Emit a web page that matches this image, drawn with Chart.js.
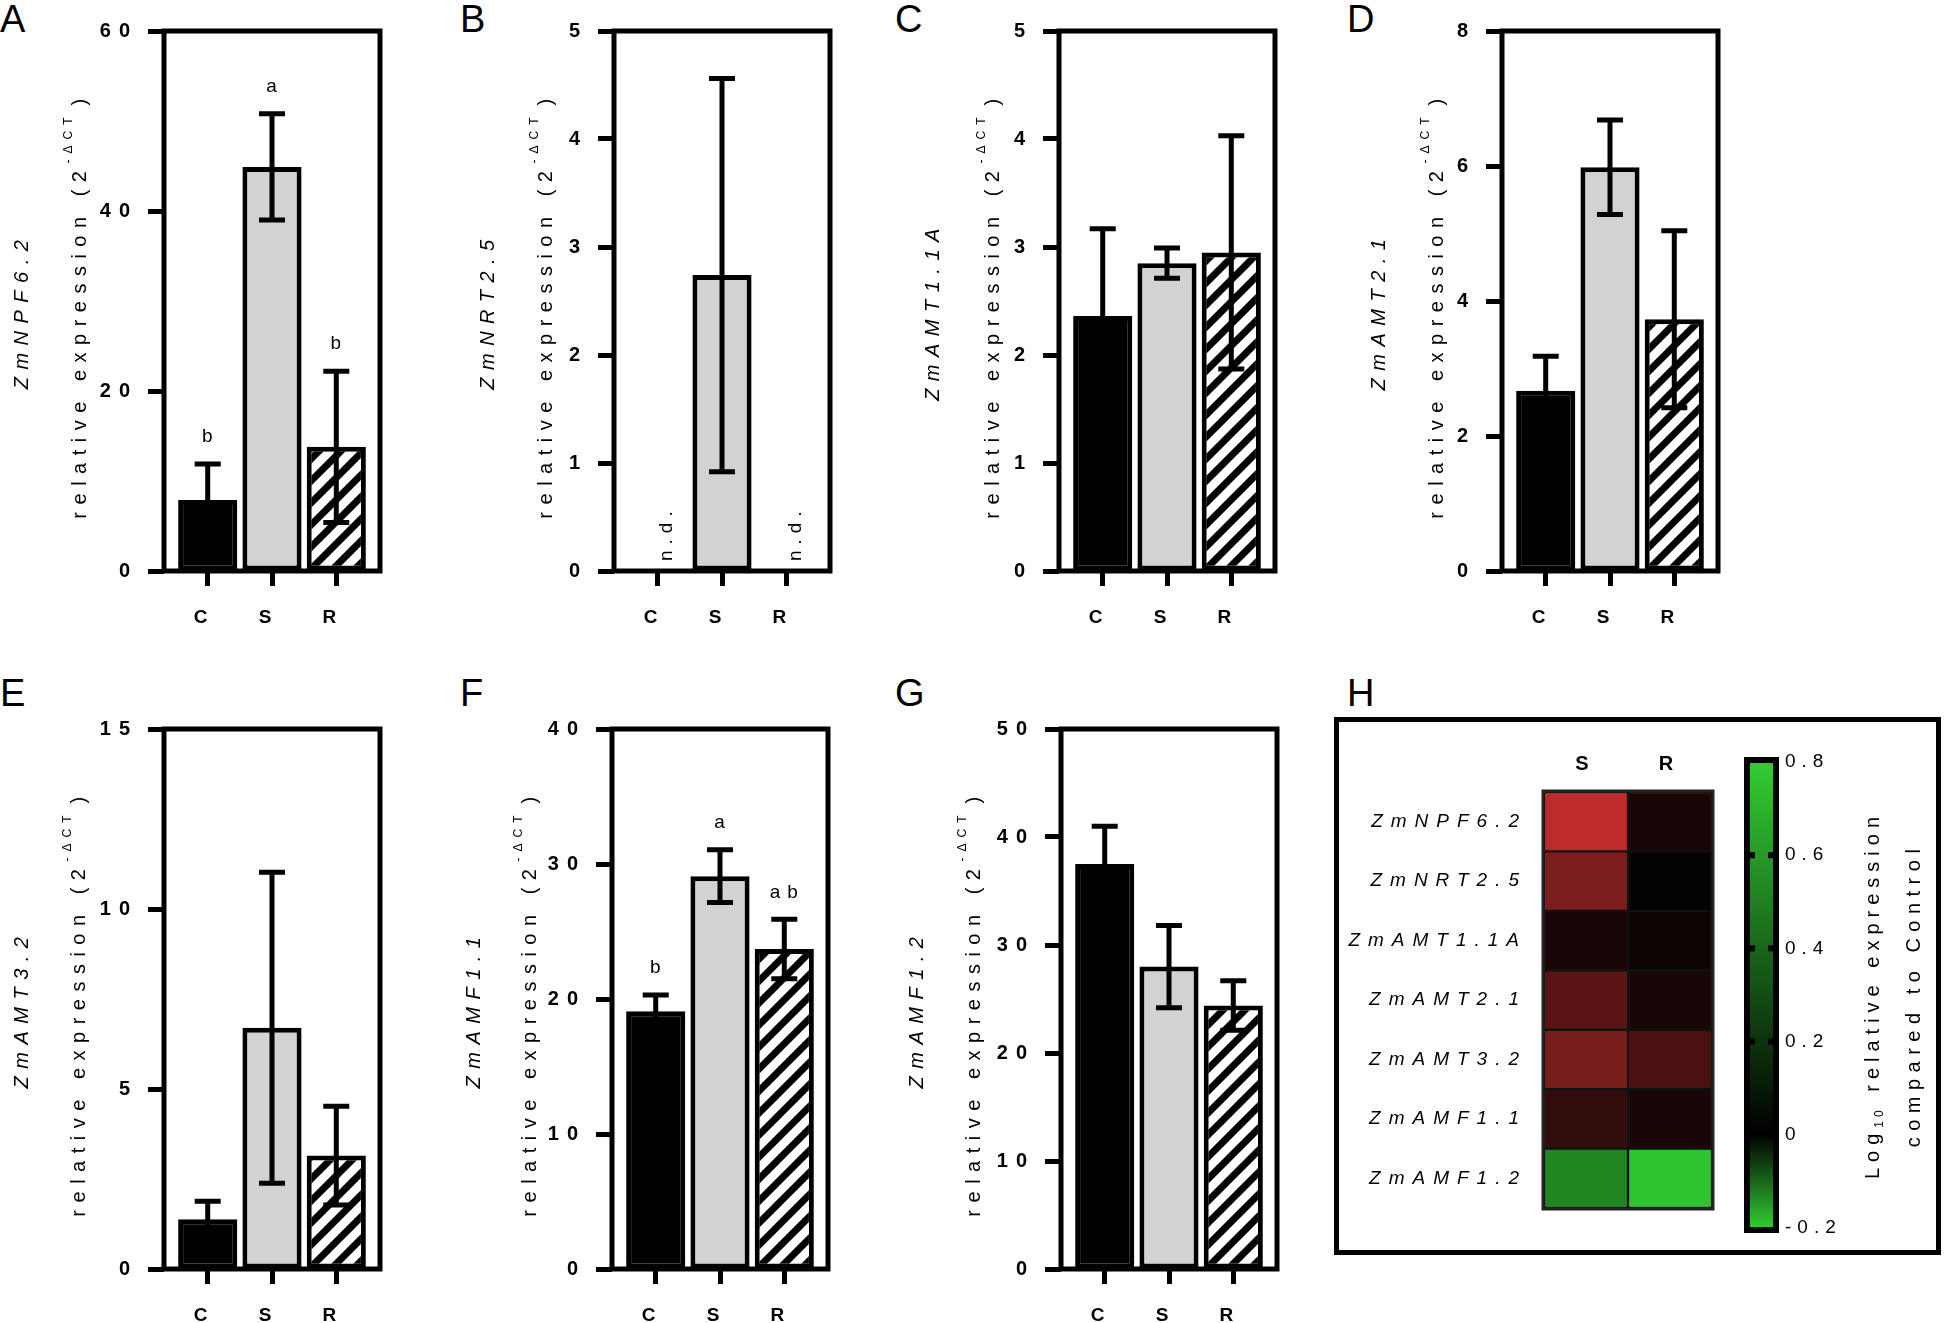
<!DOCTYPE html>
<html>
<head>
<meta charset="utf-8">
<script src="https://cdn.jsdelivr.net/npm/chart.js@4.4.1/dist/chart.umd.min.js"></script>
<style>
  html, body { margin: 0; padding: 0; background: #fff; }
  #fig { position: relative; width: 1945px; height: 1323px; overflow: hidden; font-family: "Liberation Sans", Arial, sans-serif; }
  #fig canvas { position: absolute; }
  .tag { position: absolute; font-size: 38px; line-height: 38px; color: #000; }
  #hbox { position: absolute; left: 1334px; top: 717px; width: 607px; height: 538px; border: 5px solid #000; box-sizing: border-box; }
</style>
</head>
<body>
<div id="fig">
  <div id="hbox"></div>
  <div class="tag" style="left:0px;top:0px">A</div>
  <div class="tag" style="left:460px;top:0px">B</div>
  <div class="tag" style="left:895px;top:0px">C</div>
  <div class="tag" style="left:1347px;top:0px">D</div>
  <div class="tag" style="left:0px;top:674px">E</div>
  <div class="tag" style="left:460px;top:674px">F</div>
  <div class="tag" style="left:895px;top:674px">G</div>
  <div class="tag" style="left:1347px;top:674px">H</div>
</div>
<script>
const groups = ['C', 'S', 'R'];
const genes = ['NPF6.2', 'NRT2.5', 'AMT1.1A', 'AMT2.1', 'AMT3.2', 'AMF1.1', 'AMF1.2'];

// mean and SD per gene, order C, S, R (null = not detected)
const npf62Mean = [7.9, 44.9, 13.8];
const npf62Sd = [4.0, 5.9, 8.4];
const nrt25Mean = [null, 2.74, null];
const nrt25Sd = [null, 1.82, null];
const amt11aMean = [2.36, 2.85, 2.95];
const amt11aSd = [0.81, 0.14, 1.08];
const amt21Mean = [2.67, 5.98, 3.73];
const amt21Sd = [0.51, 0.70, 1.31];
const amt32Mean = [1.38, 6.70, 3.15];
const amt32Sd = [0.50, 4.32, 1.37];
const amf11Mean = [19.1, 29.1, 23.7];
const amf11Sd = [1.2, 1.95, 2.2];
const amf12Mean = [37.5, 28.0, 24.4];
const amf12Sd = [3.5, 3.8, 2.3];

const npf62Letters = ['b', 'a', 'b'];
const amf11Letters = ['b', 'a', 'ab'];
const notDetected = 'n.d.';

const yMax = [60, 5, 5, 8, 15, 40, 50];
const yStep = [20, 1, 1, 2, 5, 10, 10];

// heat map: log10 expression relative to control
const heatCols = ['S', 'R'];
const heatS = [0.76, 0.50, 0.10, 0.36, 0.48, 0.20, -0.13];
const heatR = [0.10, 0.01, 0.05, 0.10, 0.30, 0.10, -0.19];
const scaleMin = -0.2, scaleMax = 0.8, scaleStep = 0.2;

const FONT = '"Liberation Sans", Arial, sans-serif';
Chart.defaults.font.family = FONT;
Chart.defaults.color = '#000';

const fig = document.getElementById('fig');

function addCanvas(left, top, w, h) {
  const c = document.createElement('canvas');
  c.width = w; c.height = h;
  c.style.left = left + 'px'; c.style.top = top + 'px';
  c.style.width = w + 'px'; c.style.height = h + 'px';
  fig.appendChild(c);
  return c;
}

function makeHatch() {
  const t = document.createElement('canvas');
  t.width = 22; t.height = 22;
  const g = t.getContext('2d');
  g.fillStyle = '#fff';
  g.fillRect(0, 0, 22, 22);
  g.strokeStyle = '#000';
  g.lineWidth = 7;
  g.beginPath();
  g.moveTo(-11, 11); g.lineTo(11, -11);
  g.moveTo(-2, 24); g.lineTo(24, -2);
  g.moveTo(11, 33); g.lineTo(33, 11);
  g.stroke();
  return g.createPattern(t, 'repeat');
}
const hatch = makeHatch();

const panels = [
  { gene: genes[0], mean: npf62Mean, sd: npf62Sd, letters: npf62Letters, max: yMax[0], step: yStep[0], fx: 164, fy: 31, t1: 142, t2: 84 },
  { gene: genes[1], mean: nrt25Mean, sd: nrt25Sd, max: yMax[1], step: yStep[1], fx: 614, fy: 31, t1: 126, t2: 68 },
  { gene: genes[2], mean: amt11aMean, sd: amt11aSd, max: yMax[2], step: yStep[2], fx: 1059, fy: 31, t1: 126, t2: 66 },
  { gene: genes[3], mean: amt21Mean, sd: amt21Sd, max: yMax[3], step: yStep[3], fx: 1502, fy: 31, t1: 123, t2: 65 },
  { gene: genes[4], mean: amt32Mean, sd: amt32Sd, max: yMax[4], step: yStep[4], fx: 164, fy: 729, t1: 142, t2: 85 },
  { gene: genes[5], mean: amf11Mean, sd: amf11Sd, letters: amf11Letters, max: yMax[5], step: yStep[5], fx: 612, fy: 729, t1: 138, t2: 82 },
  { gene: genes[6], mean: amf12Mean, sd: amf12Sd, max: yMax[6], step: yStep[6], fx: 1061, fy: 729, t1: 144, t2: 87 }
];

const LEFT = 164, TOP = 31, FW = 216, FH = 540;

function barDecor(p) {
  return {
    id: 'barDecor',
    beforeDraw(chart) {
      chart.ctx.letterSpacing = '8px';
    },
    afterDatasetsDraw(chart) {
      const { ctx, chartArea: a, scales: { x, y } } = chart;
      ctx.save();
      ctx.strokeStyle = '#000';
      ctx.fillStyle = '#000';
      ctx.lineWidth = 5;
      ctx.strokeRect(a.left, a.top, a.right - a.left, a.bottom - a.top);
      p.mean.forEach((m, i) => {
        const cx = x.getPixelForValue(i + 1);
        if (m === null) {
          ctx.save();
          ctx.translate(cx + 9, a.bottom - 10);
          ctx.rotate(-Math.PI / 2);
          ctx.font = '19px ' + FONT;
          ctx.letterSpacing = '6px';
          ctx.textAlign = 'left';
          ctx.textBaseline = 'middle';
          ctx.fillText(notDetected, 0, 0);
          ctx.restore();
          return;
        }
        const hi = y.getPixelForValue(m + p.sd[i]);
        const lo = y.getPixelForValue(m - p.sd[i]);
        ctx.beginPath();
        ctx.moveTo(cx, hi); ctx.lineTo(cx, lo);
        ctx.moveTo(cx - 13, hi); ctx.lineTo(cx + 13, hi);
        ctx.moveTo(cx - 13, lo); ctx.lineTo(cx + 13, lo);
        ctx.stroke();
        if (p.letters) {
          ctx.font = '19px ' + FONT;
          ctx.letterSpacing = '7px';
          ctx.textAlign = 'center';
          ctx.textBaseline = 'middle';
          ctx.fillText(p.letters[i], cx + 3, hi - 27);
        }
      });
      ctx.restore();
    },
    afterDraw(chart) {
      const { ctx, chartArea: a } = chart;
      const cy = (a.top + a.bottom) / 2;
      ctx.save();
      ctx.fillStyle = '#000';
      ctx.textBaseline = 'middle';
      ctx.translate(a.left - p.t1, cy + 10);
      ctx.rotate(-Math.PI / 2);
      ctx.font = 'italic 20px ' + FONT;
      ctx.letterSpacing = '7.5px';
      ctx.textAlign = 'center';
      ctx.fillText('Zm' + p.gene, 0, 0);
      ctx.restore();

      ctx.save();
      ctx.fillStyle = '#000';
      ctx.textBaseline = 'middle';
      ctx.textAlign = 'left';
      ctx.translate(a.left - p.t2, cy + 4);
      ctx.rotate(-Math.PI / 2);
      const main = 'relative expression (2', sup = '-\u0394CT', end = ')';
      ctx.letterSpacing = '7.5px';
      ctx.font = '20px ' + FONT;
      const w1 = ctx.measureText(main).width;
      const w3 = ctx.measureText(end).width;
      ctx.font = '12px ' + FONT;
      ctx.letterSpacing = '6px';
      const w2 = ctx.measureText(sup).width + 6;
      const x0 = -(w1 + w2 + w3) / 2;
      ctx.fillText(sup, x0 + w1, -11);
      ctx.font = '20px ' + FONT;
      ctx.letterSpacing = '7.5px';
      ctx.fillText(main, x0, 0);
      ctx.fillText(end, x0 + w1 + w2, 0);
      ctx.restore();
    }
  };
}

panels.forEach(p => {
  const w = LEFT + FW + 30;
  const h = p.fy < 100 ? 646 : 1323 - (p.fy - TOP);
  const cv = addCanvas(p.fx - LEFT, p.fy - TOP, w, h);
  new Chart(cv, {
    type: 'bar',
    data: {
      datasets: [{
        data: p.mean.map((v, i) => ({ x: i + 1, y: v })),
        backgroundColor: ['#000', '#d2d2d2', hatch],
        borderColor: '#000',
        borderWidth: 5,
        borderSkipped: false,
        barPercentage: 0.92,
        categoryPercentage: 1
      }]
    },
    options: {
      responsive: false,
      animation: false,
      devicePixelRatio: 1,
      layout: { padding: { left: 0, top: TOP, right: w - LEFT - FW, bottom: 0 } },
      plugins: { legend: { display: false }, tooltip: { enabled: false } },
      scales: {
        x: {
          type: 'linear', min: 0.32, max: 3.68, offset: false,
          afterBuildTicks: s => { s.ticks = groups.map((g, i) => ({ value: i + 1 })); },
          afterFit: s => { s.height = h - TOP - FH; s.paddingLeft = 0; s.paddingRight = 0; },
          ticks: { callback: v => groups[v - 1], font: { size: 19, weight: 'bold' }, padding: 20, labelOffset: -3, maxRotation: 0, autoSkip: false },
          grid: { offset: false, drawOnChartArea: false, tickLength: 15, tickWidth: 5, tickColor: '#000' },
          border: { display: false }
        },
        y: {
          min: 0, max: p.max,
          afterFit: s => { s.width = LEFT; s.paddingTop = 0; s.paddingBottom = 0; },
          ticks: { stepSize: p.step, font: { size: 20, weight: 'bold' }, padding: 10 },
          grid: { drawOnChartArea: false, tickLength: 16, tickWidth: 5, tickColor: '#000' },
          border: { display: false }
        }
      }
    },
    plugins: [barDecor(p)]
  });
});

// heat map
function heatColor(v) {
  if (v >= 0) {
    const t = Math.min(v / scaleMax, 1);
    return `rgb(${Math.round(200 * t)},${Math.round(45 * t)},${Math.round(45 * t)})`;
  }
  const t = Math.min(v / scaleMin, 1);
  return `rgb(${Math.round(50 * t)},${Math.round(205 * t)},${Math.round(50 * t)})`;
}

const cellSpan = 1;
const hcv = addCanvas(1340, 730, 390, 500);
new Chart(hcv, {
  type: 'bar',
  data: {
    labels: genes.map(g => 'Zm' + g),
    datasets: [
      { label: heatCols[0], data: heatS.map(() => cellSpan), backgroundColor: heatS.map(heatColor) },
      { label: heatCols[1], data: heatR.map(() => cellSpan), backgroundColor: heatR.map(heatColor) }
    ]
  },
  options: {
    indexAxis: 'y',
    responsive: false,
    animation: false,
    devicePixelRatio: 1,
    layout: { padding: { left: 0, top: 0, right: 18, bottom: 22 } },
    datasets: { bar: { barPercentage: 1, categoryPercentage: 1, borderWidth: 1.5, borderColor: '#111', borderSkipped: false } },
    plugins: { legend: { display: false }, tooltip: { enabled: false } },
    scales: {
      x: { stacked: true, min: 0, max: 2, display: false },
      y: {
        stacked: true,
        afterFit: s => { s.width = 204; s.paddingTop = 0; s.paddingBottom = 0; },
        ticks: { font: { size: 19, style: 'italic' }, padding: 17 },
        grid: { display: false, drawTicks: false },
        border: { display: false }
      },
      top: {
        type: 'category', labels: heatCols, position: 'top', offset: true,
        afterFit: s => { s.height = 62; s.paddingLeft = 0; s.paddingRight = 0; },
        ticks: { font: { size: 20, weight: 'bold' }, padding: 16 },
        grid: { display: false, drawTicks: false },
        border: { display: false }
      }
    }
  },
  plugins: [{
    id: 'heatFrame',
    beforeDraw(chart) { chart.ctx.letterSpacing = '8px'; },
    afterDatasetsDraw(chart) {
      const { ctx, chartArea: a } = chart;
      ctx.save();
      ctx.strokeStyle = '#222';
      ctx.lineWidth = 3;
      ctx.strokeRect(a.left - 1, a.top - 1, a.right - a.left + 2, a.bottom - a.top + 2);
      ctx.restore();
    }
  }]
});

// colour bar
function barGradient(chart) {
  const { ctx, chartArea, scales } = chart;
  if (!chartArea || !scales.y) return '#000';
  const y = scales.y;
  const top = y.getPixelForValue(scaleMax), bot = y.getPixelForValue(scaleMin);
  const zero = (y.getPixelForValue(0) - top) / (bot - top);
  const g = ctx.createLinearGradient(0, top, 0, bot);
  g.addColorStop(0, '#33cc33');
  g.addColorStop(zero, '#000');
  g.addColorStop(1, '#33cc33');
  return g;
}

const ccv = addCanvas(1700, 730, 240, 510);
new Chart(ccv, {
  type: 'bar',
  data: {
    labels: [''],
    datasets: [{ data: [[scaleMin, scaleMax]], backgroundColor: c => barGradient(c.chart), barPercentage: 1, categoryPercentage: 1, borderWidth: 0 }]
  },
  options: {
    responsive: false,
    animation: false,
    devicePixelRatio: 1,
    layout: { padding: { left: 47, top: 32, right: 0, bottom: 12 } },
    plugins: { legend: { display: false }, tooltip: { enabled: false } },
    scales: {
      x: { display: false },
      y: {
        position: 'right', min: scaleMin, max: scaleMax,
        afterFit: s => { s.width = 164; s.paddingTop = 0; s.paddingBottom = 0; },
        ticks: { stepSize: scaleStep, font: { size: 19 }, padding: 9,
          callback: v => Math.abs(v) < 1e-9 ? '0' : v.toFixed(1) },
        grid: { display: false, drawTicks: false },
        border: { display: false }
      }
    }
  },
  plugins: [{
    id: 'barFrame',
    beforeDraw(chart) { chart.ctx.letterSpacing = '6px'; },
    afterDatasetsDraw(chart) {
      const { ctx, chartArea: a, scales: { y } } = chart;
      ctx.save();
      ctx.strokeStyle = '#000';
      ctx.fillStyle = '#000';
      ctx.lineWidth = 6;
      ctx.strokeRect(a.left, a.top - 2, a.right - a.left, a.bottom - a.top + 4);
      y.ticks.forEach(t => {
        if (t.value <= scaleMin || t.value >= scaleMax) return;
        const py = y.getPixelForValue(t.value);
        ctx.fillRect(a.left, py - 3, 8, 6);
        ctx.fillRect(a.right - 8, py - 3, 8, 6);
      });
      ctx.restore();
    },
    afterDraw(chart) {
      const { ctx, chartArea: a } = chart;
      const cy = (a.top + a.bottom) / 2;
      ctx.save();
      ctx.fillStyle = '#000';
      ctx.textBaseline = 'middle';
      ctx.textAlign = 'left';
      ctx.translate(173, cy);
      ctx.rotate(-Math.PI / 2);
      ctx.letterSpacing = '6px';
      ctx.font = '20px ' + FONT;
      const p1 = 'Log', p3 = ' relative expression';
      const w1 = ctx.measureText(p1).width, w3 = ctx.measureText(p3).width;
      ctx.font = '12px ' + FONT;
      ctx.letterSpacing = '4px';
      const w2 = ctx.measureText('10').width + 3;
      const x0 = -(w1 + w2 + w3) / 2;
      ctx.fillText('10', x0 + w1, 7);
      ctx.font = '20px ' + FONT;
      ctx.letterSpacing = '6px';
      ctx.fillText(p1, x0, 0);
      ctx.fillText(p3, x0 + w1 + w2, 0);
      ctx.restore();

      ctx.save();
      ctx.fillStyle = '#000';
      ctx.textBaseline = 'middle';
      ctx.textAlign = 'center';
      ctx.translate(214, cy);
      ctx.rotate(-Math.PI / 2);
      ctx.font = '20px ' + FONT;
      ctx.letterSpacing = '6.5px';
      ctx.fillText('compared to Control', 0, 0);
      ctx.restore();
    }
  }]
});
</script>
</body>
</html>
